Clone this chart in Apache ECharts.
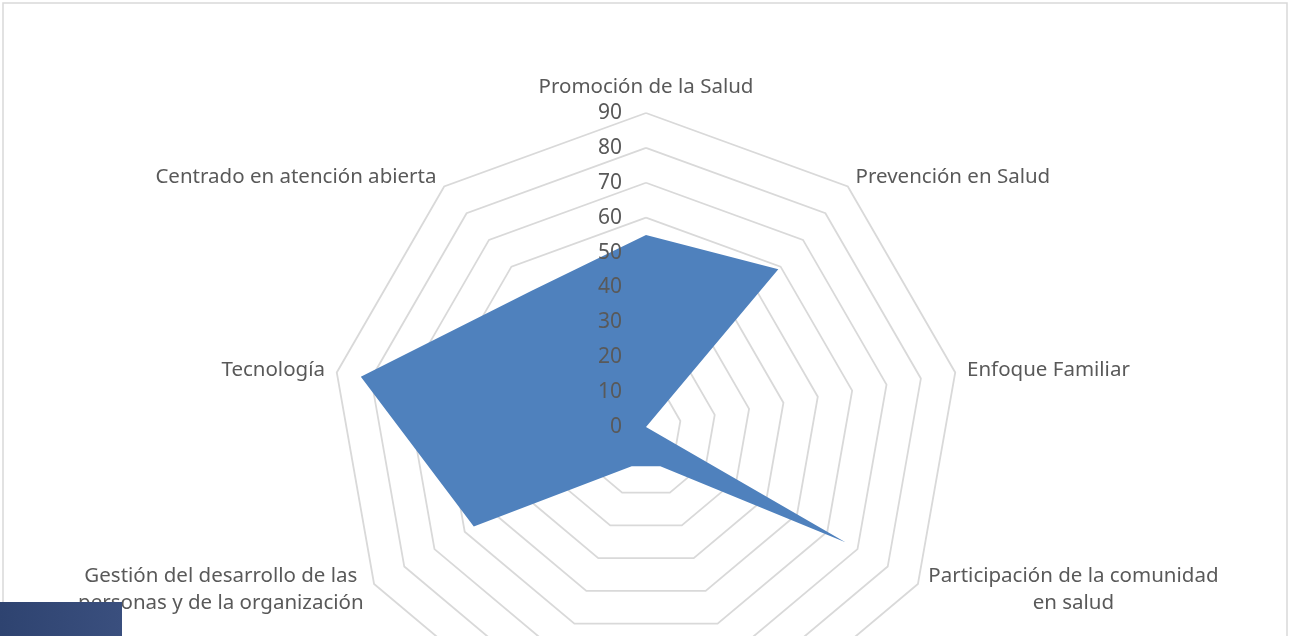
<!DOCTYPE html>
<html>
<head>
<meta charset="utf-8">
<script src="https://cdn.jsdelivr.net/npm/echarts@6/dist/echarts.min.js"></script>
<style>
    html, body { margin: 0; padding: 0; background: #fff; }
    #chart { width: 1289px; height: 636px; }
</style>
</head>
<body>
<div id="chart"></div>
<script>
// indicators, clockwise from the top
var categories = [
    'Promoción de la Salud',
    'Prevención en Salud',
    'Enfoque Familiar',
    'Participación de la comunidad\nen salud',
    'Equipo de salud',
    'Calidad',
    'Gestión del desarrollo de las\npersonas y de la organización',
    'Tecnología',
    'Centrado en atención abierta'
];
var values = [55, 59, 0, 66, 12, 12, 57, 83, 51];
var axisMax = 90;
var axisSteps = 9;

var FONT = '"Noto Sans", sans-serif';
var GREY = '#595959';

var chart = echarts.init(document.getElementById('chart'));

// echarts lays radar axes out counter-clockwise, so walk the list backwards after the first
var order = [0];
for (var k = categories.length - 1; k > 0; k--) order.push(k);

var indicators = [], labelIndicators = [], seriesValues = [];
for (var j = 0; j < order.length; j++) {
    var i = order[j];
    indicators.push({ name: categories[i], min: 0, max: axisMax });
    var li = { name: '', min: 0, max: axisMax };
    if (i == 0) {
        li.axisLabel = {
            show: true,
            margin: 24,
            color: GREY,
            fontSize: 21,
            fontFamily: FONT
        };
    }
    labelIndicators.push(li);
    seriesValues.push(values[i]);
}

var baseRadar = {
    center: [646, 427],
    radius: 314,
    startAngle: 90,
    shape: 'polygon',
    splitNumber: axisSteps,
    axisLine: { show: false },
    axisTick: { show: false },
    axisLabel: { show: false },
    splitArea: { show: false }
};

chart.setOption({
    animation: false,
    backgroundColor: '#fff',
    radar: [
        echarts.util.merge({
            z: 1,
            indicator: indicators,
            nameGap: 12,
            axisName: {
                color: GREY,
                fontSize: 20.5,
                fontFamily: FONT,
                formatter: function (name) {
                    return name.split('\n').map(function (l) {
                        return '{c|' + l + '}';
                    }).join('\n');
                },
                rich: {
                    c: {
                        align: 'center',
                        color: GREY,
                        fontSize: 20.5,
                        fontFamily: FONT,
                        lineHeight: 27
                    }
                }
            },
            splitLine: {
                lineStyle: { color: '#d9d9d9', width: 1.8 }
            }
        }, baseRadar, true),
        // second copy only carries the value labels, drawn above the filled area
        echarts.util.merge({
            z: 10,
            indicator: labelIndicators,
            axisName: { show: false },
            splitLine: { show: false }
        }, baseRadar, true)
    ],
    series: [{
        type: 'radar',
        radarIndex: 0,
        z: 5,
        symbol: 'none',
        lineStyle: { width: 0 },
        areaStyle: { color: '#4f81bd', opacity: 1 },
        data: [{ value: seriesValues }]
    }],
    graphic: [{
        type: 'rect',
        z: 100,
        silent: true,
        shape: { x: 3, y: 3, width: 1284, height: 700 },
        style: { fill: 'none', stroke: '#d9d9d9', lineWidth: 1.5 }
    }, {
        type: 'rect',
        z: 101,
        silent: true,
        shape: { x: 0, y: 602, width: 122, height: 34 },
        style: {
            fill: new echarts.graphic.LinearGradient(0, 0, 1, 0, [
                { offset: 0, color: '#2e4370' },
                { offset: 1, color: '#3a4f7e' }
            ])
        }
    }]
});
</script>
</body>
</html>
